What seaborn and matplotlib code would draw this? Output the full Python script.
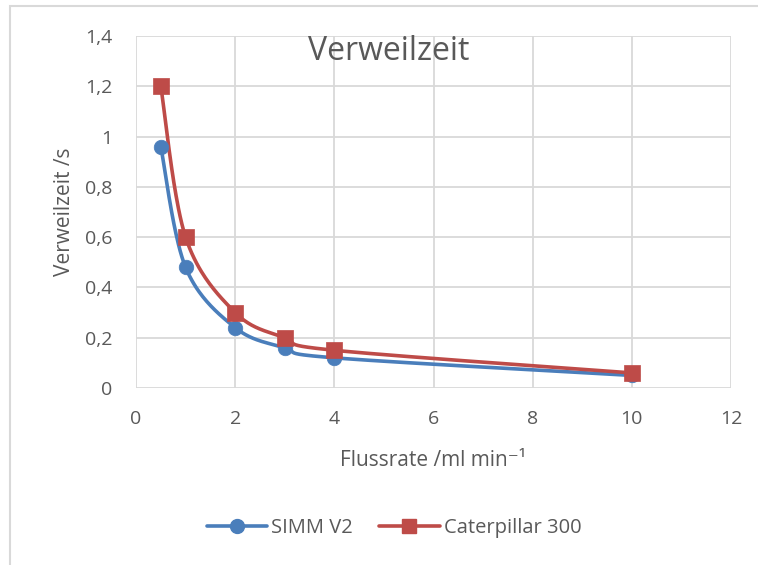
import numpy as np
import pandas as pd
import matplotlib
matplotlib.use("Agg")
import matplotlib.pyplot as plt
import seaborn as sns
from matplotlib.lines import Line2D
from matplotlib.patches import Rectangle

flow = [0.5, 1, 2, 3, 4, 10]
simm_v2 = [0.96, 0.48, 0.24, 0.16, 0.12, 0.05]
caterpillar_300 = [1.2, 0.6, 0.3, 0.2, 0.15, 0.06]
series_names = ["SIMM V2", "Caterpillar 300"]
x_ticks = [0, 2, 4, 6, 8, 10, 12]
y_ticks = [0, 0.2, 0.4, 0.6, 0.8, 1.0, 1.2, 1.4]

sns.set_theme(style="white")
plt.rcParams['font.family'] = ['Open Sans', 'DejaVu Sans']

TEXT = "#595959"
GRID = "#D9D9D9"
BLUE = "#4A7EBB"
RED = "#BE4B48"


def smooth(xs, ys, n=40):
    """Excel-like smoothed line: cubic Bezier with Catmull-Rom tangents."""
    P = np.column_stack([xs, ys]).astype(float)
    out = []
    for i in range(len(P) - 1):
        p0 = P[i - 1] if i > 0 else P[i]
        p1 = P[i]
        p2 = P[i + 1]
        p3 = P[i + 2] if i + 2 < len(P) else P[i + 1]
        c1 = p1 + (p2 - p0) / 6.0
        c2 = p2 - (p3 - p1) / 6.0
        t = np.linspace(0, 1, n)[:, None]
        seg = ((1 - t) ** 3) * p1 + 3 * ((1 - t) ** 2) * t * c1 + 3 * (1 - t) * t ** 2 * c2 + t ** 3 * p2
        out.append(seg if i == 0 else seg[1:])
    s = np.vstack(out)
    return s[:, 0], s[:, 1]


W, H = 758, 565
fig = plt.figure(figsize=(W / 100, H / 100), dpi=100)
ax = fig.add_axes([136 / W, 1 - 388 / H, (731 - 136) / W, (388 - 36) / H])

# chart area border (left and top visible)
fig.patches.append(Rectangle((10 / W, -0.1), 1.2, 1 - 6 / H + 0.1, transform=fig.transFigure,
                             fill=False, edgecolor=GRID, linewidth=1.5))

for ys, col, mk, ms in [(simm_v2, BLUE, "o", 110), (caterpillar_300, RED, "s", 120)]:
    sx, sy = smooth(flow, ys)
    df_line = pd.DataFrame({"x": sx, "y": sy})
    sns.lineplot(data=df_line, x="x", y="y", ax=ax, color=col, linewidth=2.6, sort=False,
                 estimator=None, zorder=3)
    df_pts = pd.DataFrame({"x": flow, "y": ys})
    sns.scatterplot(data=df_pts, x="x", y="y", ax=ax, color=col, marker=mk, s=ms,
                    edgecolor=col, linewidth=0.5, zorder=4)

ax.set_xlim(0, 12)
ax.set_ylim(0, 1.4)
ax.set_xticks(x_ticks)
ax.set_yticks(y_ticks)
ax.set_xticklabels([str(v) for v in x_ticks])
ax.set_yticklabels([("%g" % v).replace(".", ",") for v in y_ticks])
ax.grid(True, color=GRID, linewidth=1.3)
ax.set_axisbelow(True)
for sp in ax.spines.values():
    sp.set_visible(False)
ax.tick_params(axis="both", length=0, labelsize=14, colors=TEXT)
ax.tick_params(axis="x", pad=16)
ax.tick_params(axis="y", pad=17)

ax.set_xlabel("Flussrate /ml min⁻¹", fontsize=15, color=TEXT, labelpad=16)
ax.set_ylabel("Verweilzeit /s", fontsize=15, color=TEXT, labelpad=7)

fig.text(389 / W, 1 - 51 / H, "Verweilzeit", ha="center", va="center", fontsize=23, color=TEXT)

handles = [
    Line2D([], [], color=BLUE, marker="o", markersize=10, linewidth=2.6),
    Line2D([], [], color=RED, marker="s", markersize=10, linewidth=2.6),
]
fig.legend(handles, series_names, loc="center", bbox_to_anchor=(394 / W, 1 - 528 / H), ncol=2,
           frameon=False, fontsize=14.5, labelcolor=TEXT, handlelength=3.0, handletextpad=0.2,
           columnspacing=1.3)

fig.savefig("out.png", dpi=100)
